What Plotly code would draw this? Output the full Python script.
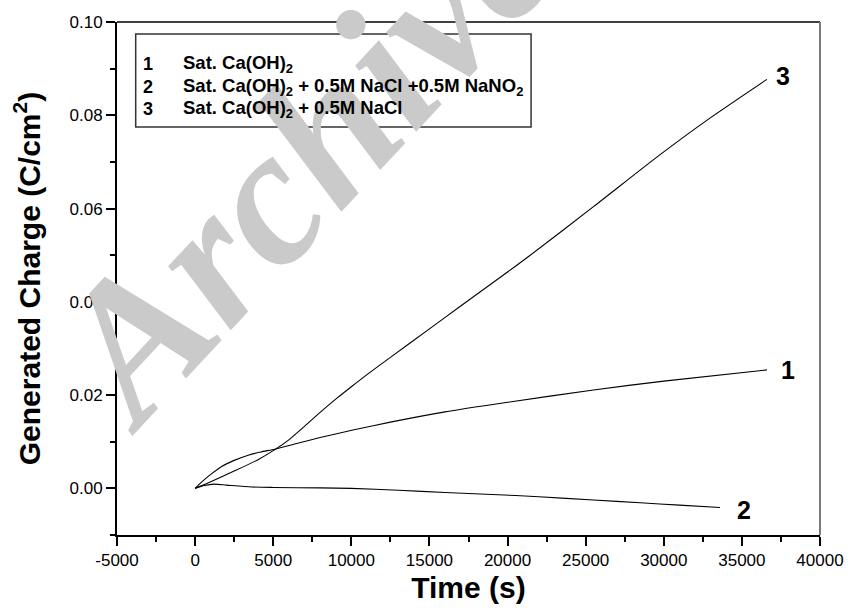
import plotly.graph_objects as go

# ---- data ----
t1 = [0, 500, 1000, 1700, 2500, 3400, 4200, 5100, 6500, 8000, 10100, 12500, 16000, 19900, 25500, 30000, 36600]
q1 = [0, 0.0016, 0.0030, 0.0047, 0.0060, 0.0071, 0.0078, 0.0084, 0.0096, 0.0109, 0.0125, 0.0142, 0.0164, 0.0184, 0.0211, 0.0230, 0.0254]

t2 = [0, 600, 1200, 2000, 3600, 5000, 8000, 10000, 13000, 16000, 19000, 22000, 25500, 28500, 31000, 33600]
q2 = [0, 0.0006, 0.0009, 0.0007, 0.0003, 0.0002, 0.0001, 0.0000, -0.0004, -0.0009, -0.0013, -0.0018, -0.0025, -0.0031, -0.0036, -0.0041]

t3 = [0, 1000, 2500, 4000, 5100, 6000, 7000, 8000, 9100, 10000, 11000, 12500, 15000, 17000, 19800, 21300, 25500, 29700, 33000, 36600]
q3 = [0, 0.0014, 0.0037, 0.0061, 0.0083, 0.0104, 0.0133, 0.0163, 0.0194, 0.0218, 0.0244, 0.0281, 0.0342, 0.0391, 0.0459, 0.0496, 0.0604, 0.0714, 0.0795, 0.0877]

series_ids = ["1", "2", "3"]
series_names = ["Sat. Ca(OH)<sub>2</sub>",
                "Sat. Ca(OH)<sub>2</sub> + 0.5M NaCl +0.5M NaNO<sub>2</sub>",
                "Sat. Ca(OH)<sub>2</sub> + 0.5M NaCl"]

x_tickvals = [-5000, 0, 5000, 10000, 15000, 20000, 25000, 30000, 35000, 40000]
x_ticktext = ["-5000", "0", "5000", "10000", "15000", "20000", "25000", "30000", "35000", "40000"]
y_tickvals = [0.00, 0.02, 0.04, 0.06, 0.08, 0.10]
y_ticktext = ["0.00", "0.02", "0.04", "0.06", "0.08", "0.10"]

FONT = "Arial, Liberation Sans, sans-serif"

fig = go.Figure()
for t, q in [(t1, q1), (t2, q2), (t3, q3)]:
    fig.add_trace(go.Scatter(x=t, y=q, mode="lines", line=dict(color="black", width=1.1, shape="spline", smoothing=0.6),
                             showlegend=False, hoverinfo="skip"))

annotations = []
# watermark
annotations.append(dict(text="Archive", xref="paper", yref="paper", x=0.262, y=0.735,
                        xanchor="center", yanchor="middle",
                        showarrow=False, textangle=-47,
                        font=dict(family="Liberation Serif, Times New Roman, serif", size=195,
                                  color="#cacaca", weight="bold", style="italic")))
# curve end labels
for lab, (lx, ly) in zip(["3", "1", "2"], [(37650, 0.0884), (37950, 0.0254), (35150, -0.0047)]):
    annotations.append(dict(text=lab, x=lx, y=ly, xref="x", yref="y", showarrow=False,
                            xanchor="center", yanchor="middle",
                            font=dict(family=FONT, size=25, color="black", weight="bold")))
# legend box texts
row_y = [0.919, 0.873, 0.831]
for sid, name, ry in zip(series_ids, series_names, row_y):
    annotations.append(dict(text=sid, xref="paper", yref="paper", x=0.0345, y=ry, showarrow=False,
                            xanchor="left", yanchor="middle",
                            font=dict(family=FONT, size=18, color="black", weight="bold")))
    annotations.append(dict(text=name, xref="paper", yref="paper", x=0.0915, y=ry, showarrow=False,
                            xanchor="left", yanchor="middle",
                            font=dict(family=FONT, size=18.5, color="black", weight="bold")))

shapes = [
    dict(type="rect", xref="paper", yref="paper", x0=0.0266, x1=0.589, y0=0.7953, y1=0.9766,
         line=dict(color="#333333", width=1.5), fillcolor="rgba(0,0,0,0)"),
    dict(type="line", xref="paper", yref="paper", x0=0, x1=1, y0=1, y1=1,
         line=dict(color="black", width=1.5)),
    dict(type="line", xref="paper", yref="paper", x0=1, x1=1, y0=0, y1=1,
         line=dict(color="#7a7a7a", width=2)),
]

fig.update_layout(
    width=856, height=613,
    margin=dict(l=117, r=26, t=22, b=78),
    paper_bgcolor="white", plot_bgcolor="white",
    font=dict(family=FONT, color="black", size=17),
    annotations=annotations, shapes=shapes,
    xaxis=dict(range=[-5000, 40000], tickvals=x_tickvals, ticktext=x_ticktext,
               ticks="outside", ticklen=9, tickwidth=1.5, tickcolor="black",
               minor=dict(dtick=2500, ticks="outside", ticklen=5, tickwidth=1.5, tickcolor="black"),
               showline=True, linecolor="black", linewidth=2, showgrid=False, zeroline=False,
               tickfont=dict(size=17),
               title=dict(text="Time (s)", font=dict(size=30, weight="bold"), standoff=8)),
    yaxis=dict(range=[-0.01, 0.10], tickvals=y_tickvals, ticktext=y_ticktext,
               ticks="outside", ticklen=9, tickwidth=1.5, tickcolor="black",
               minor=dict(dtick=0.01, ticks="outside", ticklen=5, tickwidth=1.5, tickcolor="black"),
               showline=True, linecolor="black", linewidth=2, showgrid=False, zeroline=False,
               tickfont=dict(size=17),
               title=dict(text="Generated Charge (C/cm<sup>2</sup>)", font=dict(size=30, weight="bold"),
                          standoff=20)),
)

fig.write_html("out.html")
